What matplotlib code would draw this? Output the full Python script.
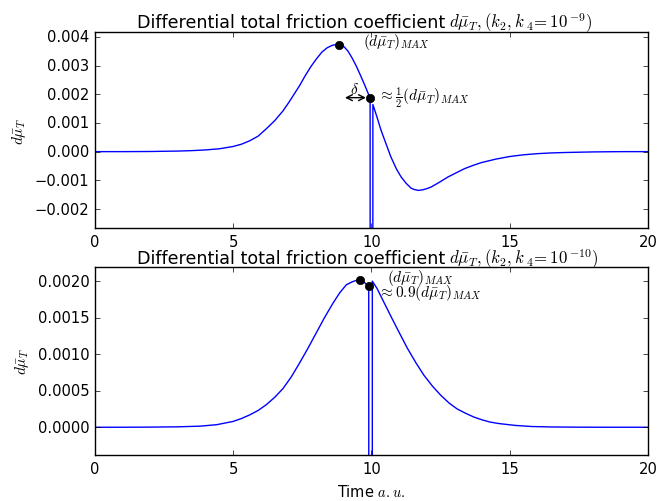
import matplotlib
matplotlib.use("Agg")
import matplotlib.pyplot as plt
from matplotlib.ticker import FormatStrFormatter

# --- Datos (valores en unidades de 1e-3) ---
# k4 = 1e-9 (grafico superior)
t_top = [0.0, 1.0, 2.0, 3.0, 3.5, 4.0, 4.5, 5.0, 5.3, 5.6, 5.9, 6.2, 6.5, 6.8,
         7.0, 7.2, 7.4, 7.6, 7.8, 8.0, 8.2, 8.4, 8.6, 8.83, 9.0, 9.15, 9.3,
         9.45, 9.6, 9.75, 9.9, 9.95,
         9.96, 10.04,
         10.05, 10.2, 10.34, 10.5, 10.7, 10.9, 11.07, 11.25, 11.43, 11.55, 11.7,
         11.85, 12.0, 12.16, 12.45, 12.77, 13.1, 13.37, 13.7, 13.98, 14.5,
         15.0, 15.5, 16.0, 16.5, 17.0, 18.0, 19.0, 20.0]
dmu_top = [0.0, 0.0, 0.005, 0.02, 0.035, 0.06, 0.1, 0.18, 0.26, 0.38, 0.54,
           0.8, 1.08, 1.42, 1.7, 2.0, 2.3, 2.64, 2.95, 3.22, 3.46, 3.62, 3.71,
           3.73, 3.66, 3.5, 3.26, 2.98, 2.66, 2.33, 1.98, 1.88,
           -50.0, -50.0,
           1.64, 1.2, 0.76, 0.34, -0.18, -0.6, -0.88, -1.1, -1.27, -1.32, -1.35,
           -1.33, -1.29, -1.23, -1.07, -0.88, -0.72, -0.59, -0.47, -0.38, -0.26,
           -0.17, -0.11, -0.07, -0.045, -0.03, -0.01, 0.0, 0.0]

# k4 = 1e-10 (grafico inferior)
t_bot = [0.0, 1.0, 2.0, 3.0, 3.8, 4.4, 5.0, 5.3, 5.6, 5.9, 6.2, 6.5, 6.8, 7.1,
         7.4, 7.7, 8.0, 8.3, 8.61, 8.85, 9.09, 9.3, 9.45, 9.57, 9.75, 9.9,
         9.94, 10.02,
         10.03, 10.2, 10.41, 10.7, 11.01, 11.3, 11.61, 11.9, 12.21, 12.5,
         12.81, 13.1, 13.41, 13.7, 14.01, 14.3, 14.62, 15.2, 15.8, 16.5, 17.5,
         18.5, 20.0]
dmu_bot = [0.0, 0.0, 0.002, 0.006, 0.015, 0.035, 0.08, 0.12, 0.17, 0.23, 0.31,
           0.41, 0.53, 0.69, 0.88, 1.08, 1.29, 1.5, 1.7, 1.84, 1.95, 1.99,
           2.01, 2.01, 1.98, 1.93,
           -50.0, -50.0,
           2.0, 1.9, 1.74, 1.52, 1.29, 1.08, 0.88, 0.71, 0.56, 0.44, 0.33,
           0.25, 0.19, 0.14, 0.1, 0.07, 0.05, 0.025, 0.01, 0.004, 0.001, 0.0,
           0.0]

# Puntos marcados: (tiempo, valor)
max_top = (8.83, 3.73)
half_top = (9.95, 1.88)
max_bot = (9.57, 2.01)
near_bot = (9.9, 1.93)

scale = 1e-3
xticks = [0, 5, 10, 15, 20]
yticks_top = [-0.002, -0.001, 0.0, 0.001, 0.002, 0.003, 0.004]
yticks_bot = [0.0, 0.0005, 0.001, 0.0015, 0.002]

title_txt = 'Differential total friction coefficient'
title_math_top = r'$d\bar{\mu}_T, (k_2, k\,{}_4\!=10\,{}^{-9})$'
title_math_bot = r'$d\bar{\mu}_T, (k_2, k\,{}_4\!=10\,{}^{-10})$'

W, H = 669, 502

plt.style.use('classic')
plt.rcParams['figure.facecolor'] = 'white'
plt.rcParams['savefig.facecolor'] = 'white'
plt.rcParams['font.size'] = 10.6
plt.rcParams['xtick.labelsize'] = 10.6
plt.rcParams['ytick.labelsize'] = 10.6
plt.rcParams['xtick.major.size'] = 3.3
plt.rcParams['ytick.major.size'] = 3.3
plt.rcParams['xtick.minor.size'] = 0
plt.rcParams['ytick.minor.size'] = 0

fig = plt.figure(figsize=(W / 100, H / 100), dpi=100)
ax1 = fig.add_axes([0.142, 0.5438, 0.8266, 0.3895])
ax2 = fig.add_axes([0.142, 0.0916, 0.8266, 0.3755])


def titulo(math, y_px):
    # texto y parte matematica por separado: en el original tienen tamaños distintos
    y = 1 - y_px / H
    t1 = fig.text(137 / W, y, title_txt, ha='left', va='baseline', fontsize=12)
    t2 = fig.text(449 / W, y, math, ha='left', va='baseline', fontsize=12)
    return t1, t2


# Grafico superior
ax1.plot(t_top, [v * scale for v in dmu_top], 'b-', lw=1.0)
ax1.plot(max_top[0], max_top[1] * scale, 'ko', ms=6)
ax1.plot(half_top[0], half_top[1] * scale, 'ko', ms=6)
ax1.annotate('', xy=(8.94, half_top[1] * scale), xytext=(half_top[0] - 0.05, half_top[1] * scale),
             arrowprops=dict(arrowstyle='<->', color='k', lw=1.0))
ax1.text(9.37, 2.2e-3, r'$\delta$', ha='center', va='center', fontsize=11)
ax1.text(9.7, 3.84e-3, r'$(d\bar{\mu}_T)_{MAX}$', ha='left', va='center', fontsize=11)
ax1.text(10.24, 1.91e-3, r'$\approx \frac{1}{2}(d\bar{\mu}_T)_{MAX}$', ha='left', va='center', fontsize=11)
ax1.set_xlim(0, 20)
ax1.set_ylim(-0.00266, 0.00415)
ax1.set_xticks(xticks)
ax1.set_yticks(yticks_top)
ax1.set_ylabel(r'$d\bar{\mu}_T$', fontsize=11)
txt_top, math_top = titulo(title_math_top, 28.3)

# Grafico inferior
ax2.plot(t_bot, [v * scale for v in dmu_bot], 'b-', lw=1.0)
ax2.plot(max_bot[0], max_bot[1] * scale, 'ko', ms=6)
ax2.plot(near_bot[0], near_bot[1] * scale, 'ko', ms=6)
ax2.text(10.55, 2.06e-3, r'$(d\bar{\mu}_T)_{MAX}$', ha='left', va='center', fontsize=11)
ax2.text(10.25, 1.85e-3, r'$\approx 0.9(d\bar{\mu}_T)_{MAX}$', ha='left', va='center', fontsize=11)
ax2.set_xlim(0, 20)
ax2.set_ylim(-0.00038, 0.0022)
ax2.set_xticks(xticks)
ax2.set_yticks(yticks_bot)
ax2.yaxis.set_major_formatter(FormatStrFormatter('%.4f'))
ax2.set_ylabel(r'$d\bar{\mu}_T$', fontsize=11)
ax2.set_xlabel(r'Time $a.u.$', fontsize=10.5)
txt_bot, math_bot = titulo(title_math_bot, 264.0)

# ajustar tamaños de los titulos a los anchos medidos en la figura original
fig.canvas.draw()
r = fig.canvas.get_renderer()
k_txt = 306.0 / txt_top.get_window_extent(r).width
k_math = 144.0 / math_top.get_window_extent(r).width
for t in (txt_top, txt_bot):
    t.set_fontsize(12 * k_txt)
for t in (math_top, math_bot):
    t.set_fontsize(12 * k_math)

fig.savefig('out.png', dpi=100)
